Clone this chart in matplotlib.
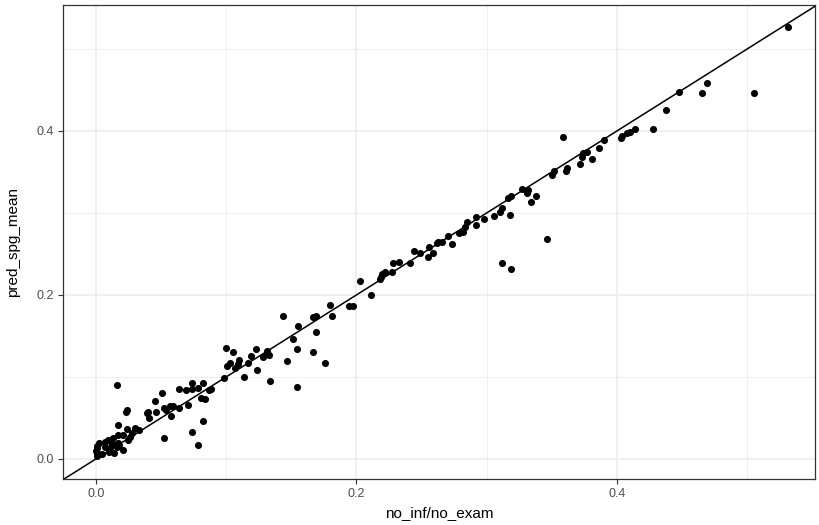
import matplotlib
matplotlib.use('Agg')
import matplotlib.pyplot as plt

# points (no_inf/no_exam vs pred_spg_mean)
no_inf_no_exam = [
    0.001, 0.001, 0.001, 0.002, 0.005, 0.000, 0.001,
    0.007, 0.007, 0.009, 0.011, 0.013, 0.014, 0.016, 0.017, 0.017, 0.018, 0.021,
    0.021, 0.024, 0.025, 0.028, 0.030, 0.017, 0.016, 0.024, 0.023, 0.039, 0.040,
    0.041, 0.045, 0.046, 0.051, 0.052, 0.054, 0.057, 0.058, 0.059, 0.052, 0.064,
    0.064, 0.069, 0.071, 0.074, 0.074, 0.078, 0.082, 0.087, 0.081, 0.084, 0.082,
    0.074, 0.078, 0.088, 0.033, 0.026, 0.012, 0.010,
    0.098, 0.100, 0.101, 0.103, 0.105, 0.107, 0.109, 0.110, 0.114, 0.117, 0.119,
    0.123, 0.124, 0.128, 0.131, 0.131, 0.133, 0.134, 0.144, 0.147, 0.151, 0.154,
    0.154, 0.155, 0.167, 0.169, 0.167, 0.169, 0.176, 0.181, 0.180,
    0.194, 0.197, 0.203, 0.211, 0.218, 0.219, 0.220, 0.222, 0.227, 0.228, 0.233,
    0.241, 0.244, 0.249, 0.255, 0.256, 0.259, 0.262, 0.263, 0.266, 0.270, 0.273,
    0.279, 0.282, 0.283, 0.285, 0.292, 0.292, 0.298, 0.306, 0.310, 0.312, 0.316,
    0.318, 0.319, 0.312, 0.319,
    0.327, 0.331, 0.332, 0.334, 0.338, 0.346, 0.350, 0.352, 0.3585, 0.361, 0.362,
    0.372, 0.373, 0.374, 0.377, 0.381, 0.386, 0.390, 0.403, 0.404, 0.408, 0.410,
    0.414, 0.428, 0.438, 0.448, 0.465, 0.469, 0.505, 0.531,
]
pred_spg_mean = [
    0.003, 0.007, 0.013, 0.020, 0.006, 0.010, 0.016,
    0.015, 0.021, 0.023, 0.013, 0.026, 0.007, 0.015, 0.029, 0.020, 0.017, 0.011,
    0.029, 0.037, 0.023, 0.032, 0.038, 0.041, 0.090, 0.060, 0.057, 0.056, 0.057,
    0.050, 0.071, 0.057, 0.080, 0.062, 0.060, 0.064, 0.052, 0.064, 0.026, 0.062,
    0.085, 0.084, 0.066, 0.093, 0.085, 0.087, 0.093, 0.084, 0.074, 0.073, 0.046,
    0.033, 0.017, 0.085, 0.035, 0.027, 0.018, 0.008,
    0.099, 0.135, 0.113, 0.117, 0.131, 0.111, 0.116, 0.121, 0.100, 0.117, 0.126,
    0.134, 0.109, 0.124, 0.132, 0.129, 0.127, 0.095, 0.174, 0.120, 0.146, 0.134,
    0.088, 0.162, 0.173, 0.174, 0.131, 0.155, 0.117, 0.174, 0.188,
    0.187, 0.187, 0.217, 0.200, 0.219, 0.222, 0.226, 0.228, 0.228, 0.239, 0.240,
    0.239, 0.253, 0.251, 0.246, 0.259, 0.251, 0.263, 0.265, 0.265, 0.272, 0.262,
    0.275, 0.277, 0.283, 0.289, 0.295, 0.285, 0.293, 0.296, 0.301, 0.306, 0.318,
    0.298, 0.321, 0.239, 0.232,
    0.329, 0.324, 0.328, 0.313, 0.321, 0.268, 0.346, 0.351, 0.393, 0.351, 0.355,
    0.360, 0.368, 0.373, 0.374, 0.366, 0.379, 0.389, 0.391, 0.394, 0.398, 0.399,
    0.402, 0.402, 0.426, 0.447, 0.446, 0.459, 0.446, 0.527,
]

x_ticks = [0.0, 0.2, 0.4]
y_ticks = [0.0, 0.2, 0.4]
x_minor = [0.1, 0.3, 0.5]
y_minor = [0.1, 0.3, 0.5]

plt.rcParams['font.family'] = ['Liberation Sans', 'DejaVu Sans']

fig = plt.figure(figsize=(8.2, 5.25), dpi=100)
ax = fig.add_axes([0.0768, 0.0876, 0.917, 0.903])

ax.scatter(no_inf_no_exam, pred_spg_mean, s=26, color='black', linewidths=0, zorder=3)
ax.axline((0, 0), slope=1, color='black', linewidth=1.1, zorder=4)

ax.set_xlim(-0.0253, 0.552)
ax.set_ylim(-0.0245, 0.5537)

ax.set_xticks(x_ticks)
ax.set_xticklabels(['0.0', '0.2', '0.4'])
ax.set_yticks(y_ticks)
ax.set_yticklabels(['0.0', '0.2', '0.4'])
ax.set_xticks(x_minor, minor=True)
ax.set_yticks(y_minor, minor=True)

ax.grid(True, which='major', color='#EBEBEB', linewidth=1.1, zorder=0)
ax.grid(True, which='minor', color='#EBEBEB', linewidth=0.55, zorder=0)
ax.set_axisbelow(True)

ax.tick_params(which='major', direction='out', length=3.5, width=0.8,
               color='#333333', labelcolor='#4D4D4D', labelsize=9, pad=3)
ax.tick_params(which='minor', length=0)

for sp in ax.spines.values():
    sp.set_color('#333333')
    sp.set_linewidth(0.9)

ax.set_xlabel('no_inf/no_exam', fontsize=11, labelpad=4)
ax.set_ylabel('pred_spg_mean', fontsize=11, labelpad=12)

fig.savefig('out.png', dpi=100, facecolor='white')
